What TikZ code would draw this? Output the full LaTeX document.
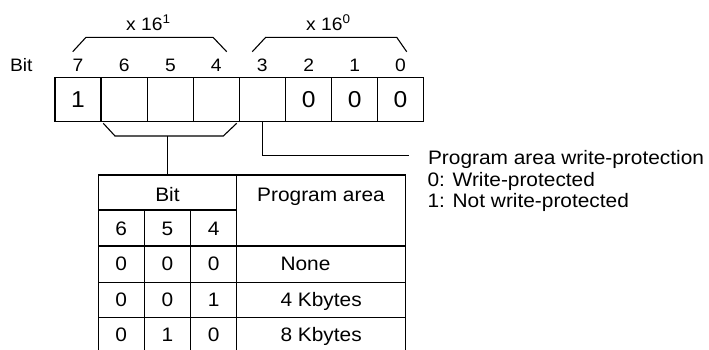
\documentclass[tikz,border=0pt]{standalone}
\usepackage{fontspec}
\setmainfont{Liberation Sans}[FakeStretch=1.07]
\usetikzlibrary{positioning}

\begin{document}
\begin{tikzpicture}[
    x=1pt, y=-1pt, line width=1.1pt,
    cell/.style={draw, minimum width=46pt, minimum height=44.4pt, inner sep=0pt, font=\fontsize{23}{26}\selectfont},
    bitno/.style={anchor=base, inner sep=0pt, font=\fontsize{18}{20}\selectfont},
    txt/.style={anchor=base, inner sep=0pt, font=\fontsize{19.5}{21.8}\selectfont},
    ltxt/.style={anchor=base west, inner sep=0pt, font=\fontsize{19.5}{21.8}\selectfont},
    conn/.style={line width=1.1pt}
]
\useasboundingbox (0,0) rectangle (709,349);

% register
\node[cell] (b7) at (78,99.5) {1};
\node[cell] (b6) at (124.3,99.5) {};
\node[cell] (b5) at (170.5,99.5) {};
\node[cell] (b4) at (216.3,99.5) {};
\node[cell] (b3) at (262.3,99.5) {};
\node[cell] (b2) at (308.7,99.5) {0};
\node[cell] (b1) at (354.7,99.5) {0};
\node[cell] (b0) at (400.5,99.5) {0};

% bit numbers
\node[ltxt, font=\fontsize{18}{20}\selectfont] (bitlbl) at (9.5,71) {Bit};
\node[bitno] (n7) at (78,71) {7};
\node[bitno] (n6) at (124.3,71) {6};
\node[bitno] (n5) at (170.5,71) {5};
\node[bitno] (n4) at (216.3,71) {4};
\node[bitno] (n3) at (262.3,71) {3};
\node[bitno] (n2) at (308.7,71) {2};
\node[bitno] (n1) at (354.7,71) {1};
\node[bitno] (n0) at (400.5,71) {0};

% digit groups
\draw (72.7,51.7) -- (86,37.3) -- (213,37.3) -- (226.7,51.7);
\draw (252.3,51.7) -- (265.7,37.3) -- (396.7,37.3) -- (406.7,51.7);
\node[bitno] (hi) at (148.3,30) {x 16\textsuperscript{1}};
\node[bitno] (lo) at (328.3,30) {x 16\textsuperscript{0}};

% bits 6-4 to table
\coordinate (hub) at (167.5,136);
\draw (103.3,123.3) -- (115,136) -- (223.3,136) -- (236.7,123.3);

% table
\coordinate (ttop) at (167.5,175);
\draw (98.3,175) -- (405.7,175);
\draw (98.3,210) -- (236.7,210);
\draw (98.3,246) -- (405.7,246);
\draw (98.3,282.7) -- (405.7,282.7);
\draw (98.3,317.3) -- (405.7,317.3);
\draw (98.3,175) -- (98.3,353);
\draw (144.3,210) -- (144.3,353);
\draw (190.7,210) -- (190.7,353);
\draw (236.7,175) -- (236.7,353);
\draw (405.7,175) -- (405.7,353);
\draw[conn] (hub) -- (ttop);

\node[txt] (tbit) at (167.5,201.7) {Bit};
\node[txt] (tarea) at (321,201.7) {Program area};
\node[txt] (c6) at (121.3,235) {6};
\node[txt] (c5) at (167.5,235) {5};
\node[txt] (c4) at (213.7,235) {4};
\node[txt] (r1a) at (121.3,270.7) {0};
\node[txt] (r1b) at (167.5,270.7) {0};
\node[txt] (r1c) at (213.7,270.7) {0};
\node[ltxt] (r1d) at (280,270.7) {None};
\node[txt] (r2a) at (121.3,306.7) {0};
\node[txt] (r2b) at (167.5,306.7) {0};
\node[txt] (r2c) at (213.7,306.7) {1};
\node[ltxt] (r2d) at (280,306.7) {4 Kbytes};
\node[txt] (r3a) at (121.3,341.7) {0};
\node[txt] (r3b) at (167.5,341.7) {1};
\node[txt] (r3c) at (213.7,341.7) {0};
\node[ltxt] (r3d) at (280,341.7) {8 Kbytes};

% bit 3 note
\node[ltxt] (wp) at (427.5,164) {Program area write-protection};
\node[ltxt] (wp0) at (427,186) {0: Write-protected};
\node[ltxt] (wp1) at (427,207.7) {1: Not write-protected};
\coordinate (wpend) at (409.3,155.7);
\draw[conn] (b3.south) |- (wpend);
\end{tikzpicture}
\end{document}
